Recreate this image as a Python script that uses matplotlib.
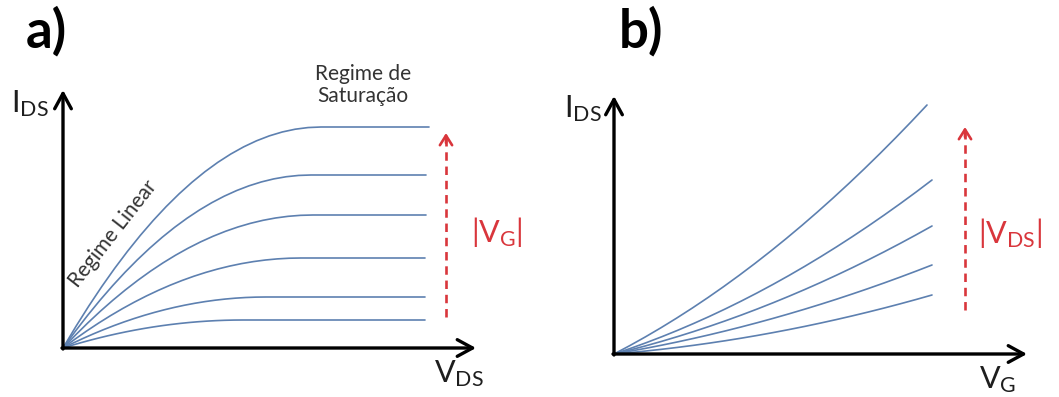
import matplotlib
matplotlib.use("Agg")
import matplotlib.pyplot as plt

# ---------------- data (arbitrary units) ----------------
# Panel a: I_DS vs V_DS, one curve per |V_G| (top = largest |V_G|)
a_x1 = [0, 1.29, 2.58, 3.87, 5.16, 6.45, 7.74, 9.03, 10.32, 11.61, 12.9, 14.19,
        15.48, 16.77, 18.06, 19.35, 20.64, 21.93, 23.22, 24.51, 25.8, 36.6]
a_y1 = [0, 2.155, 4.199, 6.133, 7.956, 9.669, 11.271, 12.763, 14.144, 15.415,
        16.575, 17.625, 18.564, 19.393, 20.111, 20.719, 21.216, 21.603, 21.879,
        22.045, 22.1, 22.1]
a_x2 = [0, 1.24, 2.48, 3.72, 4.96, 6.2, 7.44, 8.68, 9.92, 11.16, 12.4, 13.64,
        14.88, 16.12, 17.36, 18.6, 19.84, 21.08, 22.32, 23.56, 24.8, 36.3]
a_y2 = [0, 1.687, 3.287, 4.801, 6.228, 7.569, 8.823, 9.991, 11.072, 12.067,
        12.975, 13.797, 14.532, 15.181, 15.743, 16.219, 16.608, 16.911, 17.127,
        17.257, 17.3, 17.3]
a_x3 = [0, 1.25, 2.5, 3.75, 5.0, 6.25, 7.5, 8.75, 10.0, 11.25, 12.5, 13.75,
        15.0, 16.25, 17.5, 18.75, 20.0, 21.25, 22.5, 23.75, 25.0, 36.3]
a_y3 = [0, 1.297, 2.527, 3.691, 4.788, 5.819, 6.783, 7.681, 8.512, 9.277,
        9.975, 10.607, 11.172, 11.671, 12.103, 12.469, 12.768, 13.001, 13.167,
        13.267, 13.3, 13.3]
a_x4 = [0, 1.19, 2.38, 3.57, 4.76, 5.95, 7.14, 8.33, 9.52, 10.71, 11.9, 13.09,
        14.28, 15.47, 16.66, 17.85, 19.04, 20.23, 21.42, 22.61, 23.8, 36.2]
a_y4 = [0, 0.878, 1.71, 2.498, 3.24, 3.938, 4.59, 5.198, 5.76, 6.278, 6.75,
        7.178, 7.56, 7.898, 8.19, 8.438, 8.64, 8.798, 8.91, 8.978, 9.0, 9.0]
a_x5 = [0, 1.015, 2.03, 3.045, 4.06, 5.075, 6.09, 7.105, 8.12, 9.135, 10.15,
        11.165, 12.18, 13.195, 14.21, 15.225, 16.24, 17.255, 18.27, 19.285,
        20.3, 36.2]
a_y5 = [0, 0.497, 0.969, 1.415, 1.836, 2.231, 2.601, 2.945, 3.264, 3.557,
        3.825, 4.067, 4.284, 4.475, 4.641, 4.781, 4.896, 4.985, 5.049, 5.087,
        5.1, 5.1]
a_x6 = [0, 0.9, 1.8, 2.7, 3.6, 4.5, 5.4, 6.3, 7.2, 8.1, 9.0, 9.9, 10.8, 11.7,
        12.6, 13.5, 14.4, 15.3, 16.2, 17.1, 18.0, 36.2]
a_y6 = [0, 0.273, 0.532, 0.777, 1.008, 1.225, 1.428, 1.617, 1.792, 1.953, 2.1,
        2.233, 2.352, 2.457, 2.548, 2.625, 2.688, 2.737, 2.772, 2.793, 2.8, 2.8]

# Panel b: I_DS vs V_G, one curve per |V_DS| (top = largest |V_DS|)
b_x1 = [0, 1.565, 3.13, 4.695, 6.26, 7.825, 9.39, 10.955, 12.52, 14.085, 15.65,
        17.215, 18.78, 20.345, 21.91, 23.475, 25.04, 26.605, 28.17, 29.735, 31.3]
b_y1 = [0, 0.831, 1.706, 2.624, 3.586, 4.591, 5.640, 6.732, 7.868, 9.048,
        10.271, 11.538, 12.848, 14.202, 15.600, 17.041, 18.526, 20.054, 21.626,
        23.241, 24.9]
b_x = [0, 1.59, 3.18, 4.77, 6.36, 7.95, 9.54, 11.13, 12.72, 14.31, 15.9, 17.49,
       19.08, 20.67, 22.26, 23.85, 25.44, 27.03, 28.62, 30.21, 31.8]
b_y2 = [0, 0.539, 1.114, 1.723, 2.366, 3.045, 3.758, 4.507, 5.290, 6.107, 6.96,
        7.847, 8.770, 9.727, 10.718, 11.745, 12.806, 13.903, 15.034, 16.199, 17.4]
b_y3 = [0, 0.397, 0.819, 1.267, 1.741, 2.24, 2.765, 3.315, 3.891, 4.493, 5.12,
        5.773, 6.451, 7.155, 7.885, 8.64, 9.421, 10.227, 11.059, 11.917, 12.8]
b_y4 = [0, 0.276, 0.570, 0.881, 1.210, 1.558, 1.922, 2.305, 2.706, 3.124, 3.56,
        4.014, 4.486, 4.975, 5.482, 6.008, 6.550, 7.111, 7.690, 8.286, 8.9]
b_y5 = [0, 0.141, 0.298, 0.471, 0.661, 0.867, 1.089, 1.327, 1.581, 1.852,
        2.139, 2.442, 2.761, 3.097, 3.449, 3.817, 4.201, 4.601, 5.018, 5.451, 5.9]

# ---------------- styling ----------------
plt.rcParams['font.family'] = ['Lato', 'DejaVu Sans']
plt.rcParams['mathtext.fontset'] = 'custom'
plt.rcParams['mathtext.rm'] = 'Lato'
plt.rcParams['mathtext.it'] = 'Lato'
plt.rcParams['mathtext.bf'] = 'Lato:bold'

W, H = 1059, 397
fig = plt.figure(figsize=(W / 100, H / 100), dpi=100)

CURVE = '#5d80b0'
RED = '#d9363c'
DARK = '#1e1e1e'
GREY = '#333333'


def axes_at(ox, oy, w, h):
    ax = fig.add_axes([ox / W, (H - oy) / H, w / W, h / H])
    ax.set_xlim(0, w / 10)
    ax.set_ylim(0, h / 10)
    ax.axis('off')
    return ax


def ftext(x, y, s, **kw):
    kw.setdefault('va', 'baseline')
    kw.setdefault('ha', 'left')
    fig.text(x / W, 1 - y / H, s, **kw)


def axis_arrows(ax, xt, yt):
    ap = dict(arrowstyle='->,head_length=0.55,head_width=0.3', lw=2.4,
              color='black', shrinkA=0, shrinkB=0, mutation_scale=20)
    ax.annotate('', xy=(xt, 0), xytext=(-0.1, 0), arrowprops=ap,
                annotation_clip=False)
    ax.annotate('', xy=(0, yt), xytext=(0, -0.1), arrowprops=ap,
                annotation_clip=False)


def red_arrow(ax, x, y0, y1):
    ax.plot([x, x], [y0, y1 - 0.2], color=RED, lw=1.9,
            ls=(0, (3.2, 2.2)), clip_on=False)
    ax.annotate('', xy=(x, y1), xytext=(x, y1 - 1.0),
                arrowprops=dict(arrowstyle='->,head_length=0.35,head_width=0.22',
                                lw=1.9, color=RED, shrinkA=0, shrinkB=0,
                                mutation_scale=20),
                annotation_clip=False)


line_kw = dict(color=CURVE, lw=1.2, solid_joinstyle='round',
               solid_capstyle='round', clip_on=False)

# ---------------- panel a ----------------
axa = axes_at(63, 348, 420, 270)
for xs, ys in [(a_x1, a_y1), (a_x2, a_y2), (a_x3, a_y3),
               (a_x4, a_y4), (a_x5, a_y5), (a_x6, a_y6)]:
    axa.plot(xs, ys, **line_kw)
axis_arrows(axa, 41.3, 25.8)
red_arrow(axa, 38.3, 3.1, 21.5)

# ---------------- panel b ----------------
axb = axes_at(614, 354, 420, 270)
axb.plot(b_x1, b_y1, **line_kw)
for ys in [b_y2, b_y3, b_y4, b_y5]:
    axb.plot(b_x, ys, **line_kw)
axis_arrows(axb, 41.3, 25.8)
red_arrow(axb, 35.1, 4.4, 22.7)

# ---------------- texts ----------------
ftext(26, 48, 'a)', fontsize=38, fontweight='bold', color='black')
ftext(619, 48, 'b)', fontsize=38, fontweight='bold', color='black')

# panel a labels
ftext(11, 112, r'$\mathrm{I_{DS}}$', fontsize=22, color=DARK)
ftext(434, 382, r'$\mathrm{V_{DS}}$', fontsize=22, color=DARK)
ftext(363, 80, 'Regime de', fontsize=15, color=GREY, ha='center')
ftext(363, 102, 'Saturação', fontsize=15, color=GREY, ha='center')
fig.text(113 / W, 1 - 234 / H, 'Regime Linear', fontsize=15, color=GREY,
         rotation=52, rotation_mode='anchor', ha='center', va='center')
ftext(471, 242, r'$\mathrm{|V_{G}|}$', fontsize=22, color=RED)

# panel b labels
ftext(564, 117, r'$\mathrm{I_{DS}}$', fontsize=22, color=DARK)
ftext(979, 388, r'$\mathrm{V_{G}}$', fontsize=22, color=DARK)
ftext(978, 243, r'$\mathrm{|V_{DS}|}$', fontsize=22, color=RED)

fig.savefig('out.png', dpi=100)
